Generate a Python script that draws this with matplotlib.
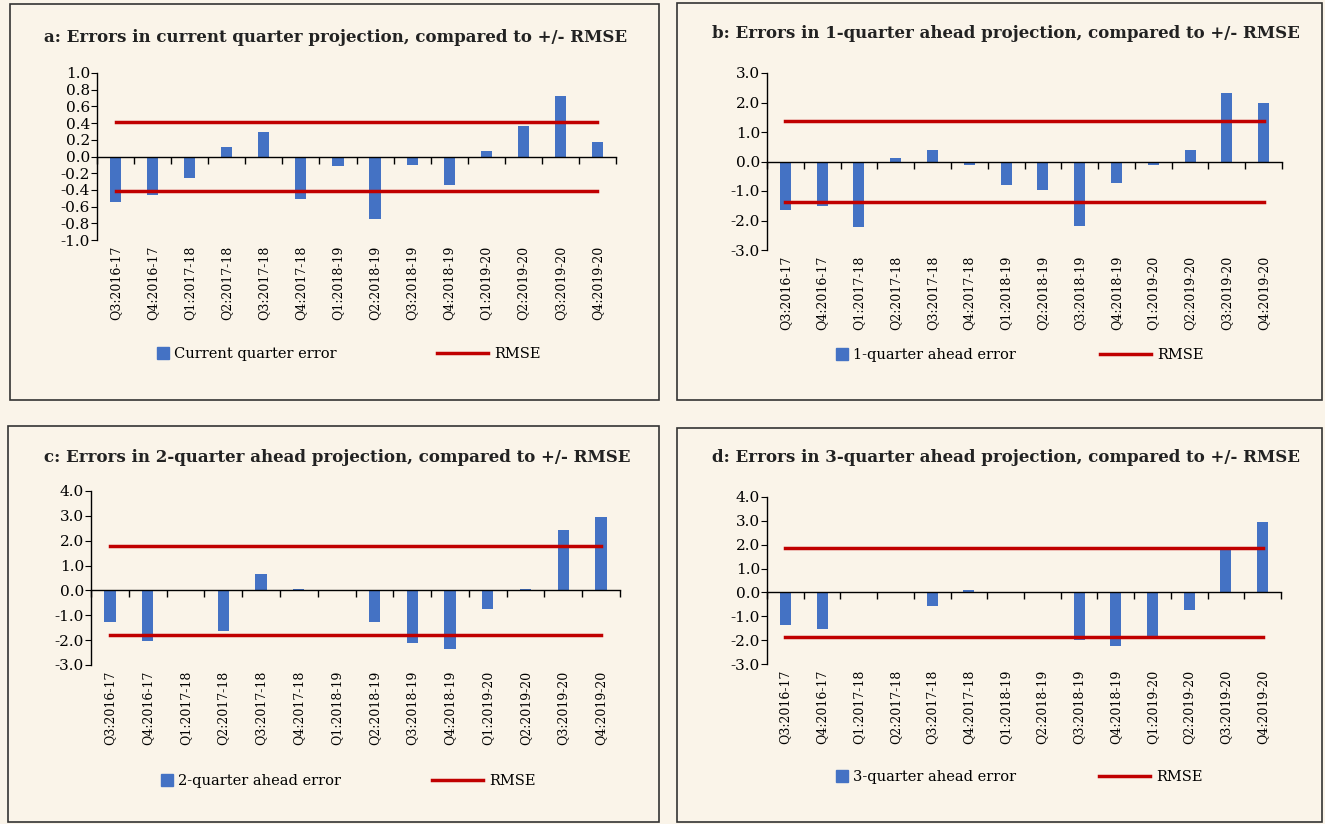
import matplotlib
matplotlib.use('Agg')
import matplotlib.pyplot as plt
from matplotlib.patches import Rectangle
from matplotlib.lines import Line2D
import numpy as np

plt.rcParams['font.family'] = ['DejaVu Serif']

quarters = ['Q3:2016-17', 'Q4:2016-17', 'Q1:2017-18', 'Q2:2017-18', 'Q3:2017-18',
            'Q4:2017-18', 'Q1:2018-19', 'Q2:2018-19', 'Q3:2018-19', 'Q4:2018-19',
            'Q1:2019-20', 'Q2:2019-20', 'Q3:2019-20', 'Q4:2019-20']

err_a = [-0.55, -0.46, -0.26, 0.11, 0.29, -0.51, -0.11, -0.75, -0.10, -0.34, 0.07, 0.37, 0.73, 0.17]
err_b = [-1.65, -1.52, -2.22, 0.12, 0.38, -0.13, -0.80, -0.95, -2.20, -0.73, -0.12, 0.38, 2.33, 1.97]
err_c = [-1.25, -2.02, 0.0, -1.65, 0.65, 0.05, 0.0, -1.25, -2.10, -2.35, -0.73, 0.07, 2.43, 2.97]
err_d = [-1.35, -1.52, 0.0, 0.0, -0.55, 0.12, 0.0, 0.0, -2.00, -2.25, -1.87, -0.72, 1.90, 2.97]
rmse = [0.41, 1.37, 1.78, 1.88]

titles = ['a: Errors in current quarter projection, compared to +/- RMSE',
          'b: Errors in 1-quarter ahead projection, compared to +/- RMSE',
          'c: Errors in 2-quarter ahead projection, compared to +/- RMSE',
          'd: Errors in 3-quarter ahead projection, compared to +/- RMSE']
bar_labels = ['Current quarter error', '1-quarter ahead error',
              '2-quarter ahead error', '3-quarter ahead error']
ylims = [(-1.0, 1.0), (-3.0, 3.0), (-3.0, 4.0), (-3.0, 4.0)]
ysteps = [0.2, 1.0, 1.0, 1.0]

W, H = 1325, 824
bg = '#FAF4E9'
bar_col = '#4472C4'
line_col = '#C00000'

fig = plt.figure(figsize=(W / 100, H / 100), dpi=100)
fig.patch.set_facecolor(bg)

def fx(px):
    return px / W

def fy(py):
    return 1 - py / H

# panel boxes (left, top, right, bottom) in pixels
boxes = [(10, 4, 659, 400), (677, 3, 1322, 400), (8, 426, 659, 822), (677, 428, 1322, 822)]
# axes (left, top, right, bottom) in pixels
axbox = [(97, 73, 616, 240), (767, 73, 1282, 250), (91, 491, 620, 665), (767, 497, 1281, 664)]
title_pos = [(336, 37), (1006, 33), (337, 458), (1006, 458)]
leg_bar = [(157, 354), (836, 355), (161, 781), (836, 777)]
leg_line = [(437, 354), (1100, 355), (432, 781), (1099, 777)]

data = [err_a, err_b, err_c, err_d]
x = np.arange(len(quarters))

for i in range(4):
    l, t, r, b = boxes[i]
    fig.patches.append(Rectangle((fx(l), fy(b)), fx(r - l), (b - t) / H,
                                 transform=fig.transFigure, fill=False,
                                 edgecolor='#333333', linewidth=1.2))
    al, at, ar, ab = axbox[i]
    ax = fig.add_axes([fx(al), fy(ab), fx(ar - al), (ab - at) / H])
    ax.set_facecolor('none')
    ax.bar(x, data[i], width=0.3, color=bar_col, linewidth=0, zorder=2)
    ax.plot(x, [rmse[i]] * len(x), color=line_col, linewidth=2.5, zorder=3)
    ax.plot(x, [-rmse[i]] * len(x), color=line_col, linewidth=2.5, zorder=3)
    y0, y1 = ylims[i]
    ax.set_ylim(y0, y1)
    ax.set_xlim(-0.5, len(x) - 0.5)
    ax.set_yticks(np.arange(y0, y1 + ysteps[i] / 2, ysteps[i]))
    ax.set_yticklabels([f'{v:.1f}' if abs(v) > 1e-9 else '0.0' for v in ax.get_yticks()])
    ax.tick_params(axis='y', direction='out', length=4, labelsize=11, pad=1)
    for s in ['top', 'right']:
        ax.spines[s].set_visible(False)
    ax.spines['left'].set_linewidth(1)
    # x axis drawn at zero, boundary ticks pointing down, labels under the plot
    ax.spines['bottom'].set_position(('data', 0))
    ax.spines['bottom'].set_linewidth(1)
    ax.set_xticks(x)
    ax.set_xticklabels(quarters, rotation=90, fontsize=9)
    ax.set_xticks(np.arange(-0.5, len(x), 1.0), minor=True)
    zero_px = (0 - y0) / (y1 - y0) * (ab - at)
    ax.tick_params(axis='x', which='major', length=0, pad=(zero_px + 6) * 0.72)
    ax.tick_params(axis='x', which='minor', direction='out', length=5, width=1)

    tx, ty = title_pos[i]
    fig.text(fx(tx), fy(ty), titles[i], ha='center', va='center',
             fontsize=12, fontweight='bold', color='#222222')

    h1 = Line2D([], [], marker='s', linestyle='none', color=bar_col, markersize=8)
    h2 = Line2D([], [], color=line_col, linewidth=2.5)
    lx, ly = leg_bar[i]
    fig.legend([h1], [bar_labels[i]], loc='center left', bbox_to_anchor=(fx(lx), fy(ly)),
               frameon=False, fontsize=10.5, handlelength=0.8, handletextpad=0.4,
               borderaxespad=0, borderpad=0)
    lx, ly = leg_line[i]
    fig.legend([h2], ['RMSE'], loc='center left', bbox_to_anchor=(fx(lx), fy(ly)),
               frameon=False, fontsize=10.5, handlelength=3.5, handletextpad=0.4,
               borderaxespad=0, borderpad=0)

fig.savefig('out.png', dpi=100, facecolor=bg)
